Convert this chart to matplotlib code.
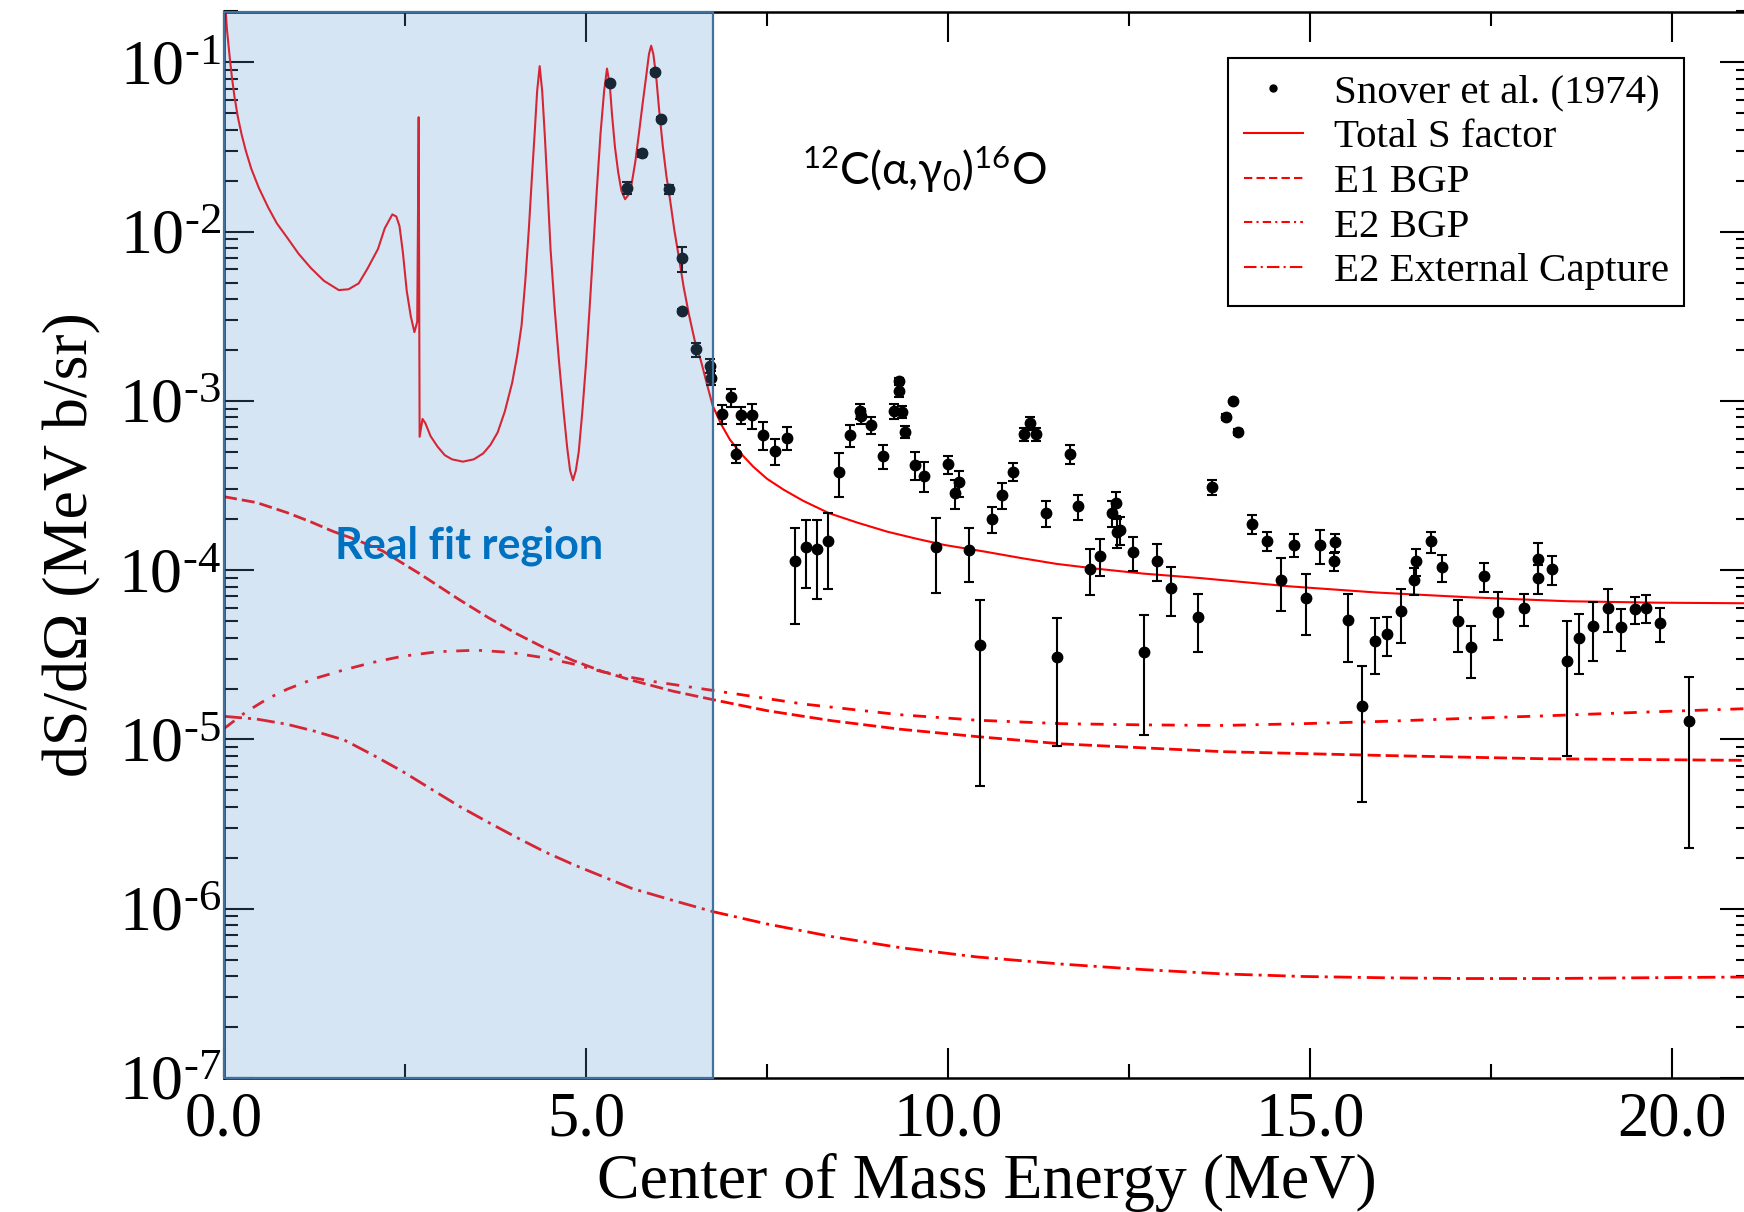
import numpy as np
import matplotlib
matplotlib.use('Agg')
import matplotlib.pyplot as plt
from matplotlib.lines import Line2D
from matplotlib.ticker import MultipleLocator, LogLocator, FuncFormatter, NullFormatter

plt.rcParams['font.family'] = ['Liberation Serif', 'DejaVu Serif']
plt.rcParams['mathtext.fontset'] = 'custom'
plt.rcParams['mathtext.rm'] = 'Liberation Serif'
plt.rcParams['mathtext.it'] = 'Liberation Serif:italic'
plt.rcParams['mathtext.sf'] = 'Lato'
plt.rcParams['lines.scale_dashes'] = False

# Snover et al. (1974) data: energy (MeV), dS/dOmega, error
snover_E = [5.33, 5.56, 5.78, 5.95, 6.03, 6.15, 6.32, 6.33, 6.52, 6.71, 6.72,
            6.885, 7.0, 7.065, 7.14, 7.29, 7.45, 7.61, 7.77, 7.89, 8.04, 8.19, 8.34,
            8.5, 8.64, 8.79, 8.80, 8.94, 9.1, 9.26, 9.32, 9.33, 9.37, 9.40, 9.55,
            9.67, 9.83, 10.0, 10.09, 10.15, 10.29, 10.44, 10.61, 10.75, 10.9, 11.05,
            11.13, 11.21, 11.35, 11.5, 11.69, 11.8, 11.96, 12.1, 12.26, 12.32, 12.34,
            12.38, 12.55, 12.71, 12.89, 13.08, 13.45, 13.65, 13.84, 13.93, 14.01,
            14.2, 14.4, 14.6, 14.78, 14.95, 15.14, 15.34, 15.33, 15.52, 15.72, 15.9,
            16.07, 16.26, 16.44, 16.46, 16.67, 16.83, 17.04, 17.22, 17.4, 17.59,
            17.95, 18.15, 18.15, 18.34, 18.55, 18.72, 18.91, 19.11, 19.3, 19.49,
            19.64, 19.84, 20.23]
snover_S = [0.0759, 0.0182, 0.029, 0.0877, 0.0464, 0.0178, 0.00695, 0.0034, 2.02e-3, 1.61e-3, 1.37e-3,
            8.38e-4, 1.05e-3, 4.89e-4, 8.26e-4, 8.22e-4, 6.3e-4, 5.09e-4, 6.08e-4, 1.13e-4, 1.38e-4, 1.33e-4, 1.48e-4,
            3.83e-4, 6.3e-4, 8.73e-4, 8.15e-4, 7.18e-4, 4.73e-4, 8.73e-4, 1.15e-3, 1.31e-3, 8.61e-4, 6.59e-4, 4.21e-4,
            3.62e-4, 1.38e-4, 4.23e-4, 2.85e-4, 3.3e-4, 1.31e-4, 3.61e-5, 2.0e-4, 2.79e-4, 3.83e-4, 6.35e-4,
            7.38e-4, 6.35e-4, 2.19e-4, 3.07e-5, 4.86e-4, 2.39e-4, 1.02e-4, 1.22e-4, 2.19e-4, 2.49e-4, 1.69e-4,
            1.73e-4, 1.28e-4, 3.27e-5, 1.14e-4, 7.9e-5, 5.28e-5, 3.09e-4, 8.07e-4, 1.0e-3, 6.53e-4,
            1.88e-4, 1.49e-4, 8.77e-5, 1.41e-4, 6.84e-5, 1.41e-4, 1.46e-4, 1.13e-4, 5.08e-5, 1.57e-5, 3.82e-5,
            4.22e-5, 5.71e-5, 8.73e-5, 1.13e-4, 1.48e-4, 1.04e-4, 5.0e-5, 3.51e-5, 9.25e-5, 5.67e-5,
            5.97e-5, 9.0e-5, 1.17e-4, 1.02e-4, 2.9e-5, 4.0e-5, 4.71e-5, 6.0e-5, 4.63e-5, 5.9e-5,
            6.0e-5, 4.88e-5, 1.28e-5]
snover_err = [2.0e-3, 1.4e-3, 1.4e-3, 2.0e-3, 1.5e-3, 1.2e-3, 1.17e-3, 1.0e-4, 1.9e-4, 1.5e-4, 1.3e-4,
              1.09e-4, 1.26e-4, 6.1e-5, 9.1e-5, 1.37e-4, 1.18e-4, 9.0e-5, 9.2e-5, 6.5e-5, 6.0e-5, 6.5e-5, 7.1e-5,
              1.13e-4, 9.2e-5, 8.7e-5, 8.0e-5, 8.3e-5, 7.6e-5, 8.7e-5, 9.8e-5, 4.8e-5, 7.3e-5, 5.3e-5, 8.1e-5,
              7.2e-5, 6.5e-5, 5.1e-5, 5.6e-5, 5.8e-5, 4.6e-5, 3.08e-5, 3.5e-5, 4.8e-5, 4.6e-5, 5.4e-5,
              6.3e-5, 5.4e-5, 3.8e-5, 2.15e-5, 6.3e-5, 4.0e-5, 3.1e-5, 3.0e-5, 3.8e-5, 3.9e-5, 3.3e-5,
              3.3e-5, 2.9e-5, 2.2e-5, 2.8e-5, 2.5e-5, 2.0e-5, 3.0e-5, 3.4e-5, 0.0, 2.7e-5,
              2.4e-5, 1.9e-5, 3.0e-5, 2.2e-5, 2.7e-5, 3.2e-5, 1.7e-5, 1.4e-5, 2.2e-5, 1.14e-5, 1.37e-5,
              1.1e-5, 2.0e-5, 1.6e-5, 2.0e-5, 2.1e-5, 1.9e-5, 1.7e-5, 1.2e-5, 1.8e-5, 1.8e-5,
              1.3e-5, 1.8e-5, 2.7e-5, 2.0e-5, 2.1e-5, 1.55e-5, 1.8e-5, 1.7e-5, 1.28e-5, 1.07e-5,
              1.1e-5, 1.1e-5, 1.05e-5]

# Total S factor
total_E = [0.0, 0.04, 0.08, 0.11, 0.144, 0.19, 0.243, 0.30, 0.376, 0.48, 0.607, 0.73, 0.871,
           1.03, 1.20, 1.38, 1.585, 1.72, 1.86, 1.98, 2.127, 2.22, 2.325, 2.38, 2.424, 2.47,
           2.524, 2.58, 2.63, 2.669, 2.689, 2.702, 2.742, 2.78, 2.854, 2.95, 3.05, 3.15, 3.30,
           3.45, 3.58, 3.68, 3.78, 3.88, 3.98, 4.05, 4.11, 4.16, 4.21, 4.25, 4.29, 4.325, 4.36,
           4.395, 4.43, 4.47, 4.51, 4.57, 4.63, 4.69, 4.74, 4.78, 4.82, 4.86, 4.90, 4.95, 5.0,
           5.05, 5.10, 5.15, 5.20, 5.25, 5.29, 5.33, 5.36, 5.40, 5.445, 5.49, 5.54, 5.59, 5.63,
           5.68, 5.73, 5.78, 5.83, 5.87, 5.90, 5.93, 5.97, 6.01, 6.06, 6.11, 6.16, 6.22, 6.29,
           6.35, 6.42, 6.50, 6.59, 6.67, 6.75, 6.87, 6.99, 7.15, 7.31, 7.5, 7.73, 8.0, 8.36,
           8.75, 9.16, 9.55, 9.95, 10.5, 11.01, 11.5, 12.06, 12.7, 13.48, 14.7, 15.93, 17.2,
           18.55, 19.8, 21.0]
total_S = [0.282, 0.158, 0.106, 0.0813, 0.0632, 0.0479, 0.0376, 0.0302, 0.0236, 0.0182, 0.0140,
           0.0112, 0.00925, 0.00741, 0.00610, 0.00513, 0.00452, 0.00457, 0.00495, 0.00603, 0.00791,
           0.01047, 0.01265, 0.0123, 0.0108, 0.00759, 0.00447, 0.00316, 0.00255, 0.00294, 0.0475,
           0.000614, 0.000783, 0.000741, 0.000619, 0.000537, 0.000478, 0.000452, 0.000438,
           0.000452, 0.000490, 0.000550, 0.000652, 0.000871, 0.00128, 0.00186, 0.00280, 0.00501,
           0.01026, 0.0200, 0.0377, 0.0676, 0.0951, 0.0676, 0.0377, 0.0178, 0.00791, 0.00339,
           0.00166, 0.000871, 0.000530, 0.000389, 0.000340, 0.000389, 0.000502, 0.000871, 0.00166,
           0.00355, 0.00791, 0.0178, 0.0377, 0.0676, 0.0920, 0.0724, 0.0488, 0.0316, 0.0224,
           0.0174, 0.01556, 0.0166, 0.01914, 0.0257, 0.0377, 0.0562, 0.0820, 0.1122, 0.1256,
           0.1122, 0.0820, 0.0525, 0.0322, 0.0214, 0.01556, 0.01023, 0.00676, 0.00468, 0.00327,
           0.00229, 0.00171, 0.00126, 0.000938, 0.000724, 0.000589, 0.000484, 0.000409, 0.000347,
           0.000299, 0.000257, 0.000217, 0.000191, 0.000169, 0.000154, 0.000141, 0.000129,
           0.000118, 0.000109, 0.000102, 9.55e-5, 8.99e-5, 8.04e-5, 7.38e-5, 6.92e-5, 6.56e-5,
           6.43e-5, 6.38e-5]

e1_E = [0.0, 0.45, 0.87, 1.2, 1.5, 1.85, 2.19, 2.7, 3.25, 3.65, 4.04, 4.43, 4.83, 5.23, 5.63,
        6.2, 6.75, 7.5, 8.4, 9.34, 10.4, 11.57, 13.8, 16.03, 18.26, 21.0]
e1_S = [2.72e-4, 2.51e-4, 2.19e-4, 1.93e-4, 1.70e-4, 1.50e-4, 1.30e-4, 9.55e-5, 6.70e-5, 5.25e-5,
        4.22e-5, 3.47e-5, 2.92e-5, 2.52e-5, 2.24e-5, 1.93e-5, 1.72e-5, 1.48e-5, 1.29e-5, 1.15e-5,
        1.04e-5, 9.42e-6, 8.47e-6, 8.04e-6, 7.69e-6, 7.53e-6]

e2_E = [0.0, 0.3, 0.6, 0.87, 1.25, 1.66, 2.05, 2.46, 2.95, 3.49, 3.95, 4.44, 4.83, 5.23, 5.9,
        6.75, 8.0, 9.34, 10.4, 11.57, 12.7, 13.8, 14.9, 16.03, 17.1, 18.26, 19.6, 21.0]
e2_S = [1.16e-5, 1.45e-5, 1.74e-5, 1.98e-5, 2.29e-5, 2.58e-5, 2.85e-5, 3.10e-5, 3.30e-5, 3.37e-5,
        3.27e-5, 3.03e-5, 2.79e-5, 2.51e-5, 2.21e-5, 1.95e-5, 1.62e-5, 1.40e-5, 1.30e-5, 1.24e-5,
        1.22e-5, 1.21e-5, 1.24e-5, 1.28e-5, 1.33e-5, 1.38e-5, 1.45e-5, 1.52e-5]

ec_E = [0.0, 0.45, 0.87, 1.25, 1.66, 2.05, 2.46, 2.85, 3.25, 3.65, 4.04, 4.43, 4.83, 5.23, 5.63,
        6.2, 6.75, 7.5, 8.4, 9.34, 10.4, 11.57, 12.7, 13.8, 14.9, 16.03, 17.1, 18.26, 19.6, 21.0]
ec_S = [1.37e-5, 1.32e-5, 1.23e-5, 1.12e-5, 9.93e-6, 8.13e-6, 6.50e-6, 5.13e-6, 4.03e-6, 3.24e-6,
        2.64e-6, 2.17e-6, 1.82e-6, 1.55e-6, 1.32e-6, 1.12e-6, 9.62e-7, 8.13e-7, 6.84e-7, 5.89e-7,
        5.19e-7, 4.71e-7, 4.37e-7, 4.12e-7, 3.98e-7, 3.91e-7, 3.87e-7, 3.87e-7, 3.91e-7, 3.95e-7]

fit_region = (0.0, 6.75)

W, H = 1744, 1212
fig = plt.figure(figsize=(W / 100, H / 100), dpi=100)
ax = fig.add_axes([224 / W, 1 - 1078 / H, 1526 / W, (1078 - 11.5) / H])

red = '#ff0000'
ax.plot(total_E, total_S, color=red, lw=1.5, zorder=2)
ax.plot(e1_E, e1_S, color=red, lw=2.0, dashes=(9.4, 3.6), zorder=2)
ax.plot(e2_E, e2_S, color=red, lw=2.0, dashes=(9.4, 7.0, 2.2, 7.0), zorder=2)
ax.plot(ec_E, ec_S, color=red, lw=2.0, dashes=(13, 4.3, 2.2, 4.3), zorder=2)

ax.errorbar(snover_E, snover_S, yerr=snover_err, fmt='o', color='k', ms=7.5,
            elinewidth=1.5, capsize=3.3, capthick=1.5, zorder=3)

# shaded fit region drawn on top (semi-transparent)
ax.axvspan(fit_region[0], fit_region[1], facecolor=(0.357, 0.608, 0.835, 0.25),
           edgecolor='#41719c', lw=1.6, zorder=5, clip_on=False)
ax.text(3.38, 1.17e-4, 'Real fit region', family=['Lato', 'DejaVu Sans'], weight='bold',
        fontsize=31, color='#0070c0', ha='center', va='baseline', zorder=6)

ax.text(7.98, 0.0188, r'$\mathsf{^{12}C(α{,}γ_{0})^{16}O}$', fontsize=32, ha='left',
        va='baseline', zorder=6)

ax.set_yscale('log')
ax.set_xlim(0, 1526 / 72.4)
ax.set_ylim(1e-7, 0.2)

ax.xaxis.set_major_locator(MultipleLocator(5))
ax.xaxis.set_minor_locator(MultipleLocator(2.5))
ax.xaxis.set_major_formatter(FuncFormatter(lambda v, p: '%.1f' % v))
ax.yaxis.set_major_locator(LogLocator(base=10, numticks=20))
ax.yaxis.set_minor_locator(LogLocator(base=10, subs=np.arange(2, 10), numticks=20))
ax.yaxis.set_minor_formatter(NullFormatter())
ax.yaxis.set_major_formatter(
    FuncFormatter(lambda v, p: '$10^{\u2010%d}$' % abs(round(np.log10(v)))))

ax.tick_params(which='both', direction='in', top=True, right=True, color='k', width=1.5)
ax.tick_params(which='major', length=21.5)
ax.tick_params(which='minor', length=10)
ax.tick_params(axis='x', which='major', labelsize=45, pad=10)
ax.tick_params(axis='y', which='major', labelsize=46, pad=2)

for s in ax.spines.values():
    s.set_linewidth(1.8)
    s.set_color('k')

ax.set_xlabel('Center of Mass Energy (MeV)', fontsize=46, labelpad=2)
ax.set_ylabel('dS/dΩ (MeV b/sr)', fontsize=46, labelpad=12)

handles = [
    Line2D([], [], ls='none', marker='o', color='k', ms=5),
    Line2D([], [], color=red, lw=1.5),
    Line2D([], [], color=red, lw=1.5, dashes=(6, 3)),
    Line2D([], [], color=red, lw=1.5, dashes=(6, 3, 1.5, 3)),
    Line2D([], [], color=red, lw=1.5, dashes=(9, 3, 1.5, 3)),
]
labels = ['Snover et al. (1974)', 'Total S factor', 'E1 BGP', 'E2 BGP', 'E2 External Capture']
leg = ax.legend(handles, labels, loc='upper right', bbox_to_anchor=(0.957, 0.956),
                borderaxespad=0, fontsize=29.5, fancybox=False, framealpha=1,
                edgecolor='k', handlelength=1.45, handletextpad=0.75, labelspacing=0.17,
                borderpad=0.38)
leg.get_frame().set_linewidth(1.5)
leg.set_zorder(10)

fig.savefig('out.png', dpi=100)
